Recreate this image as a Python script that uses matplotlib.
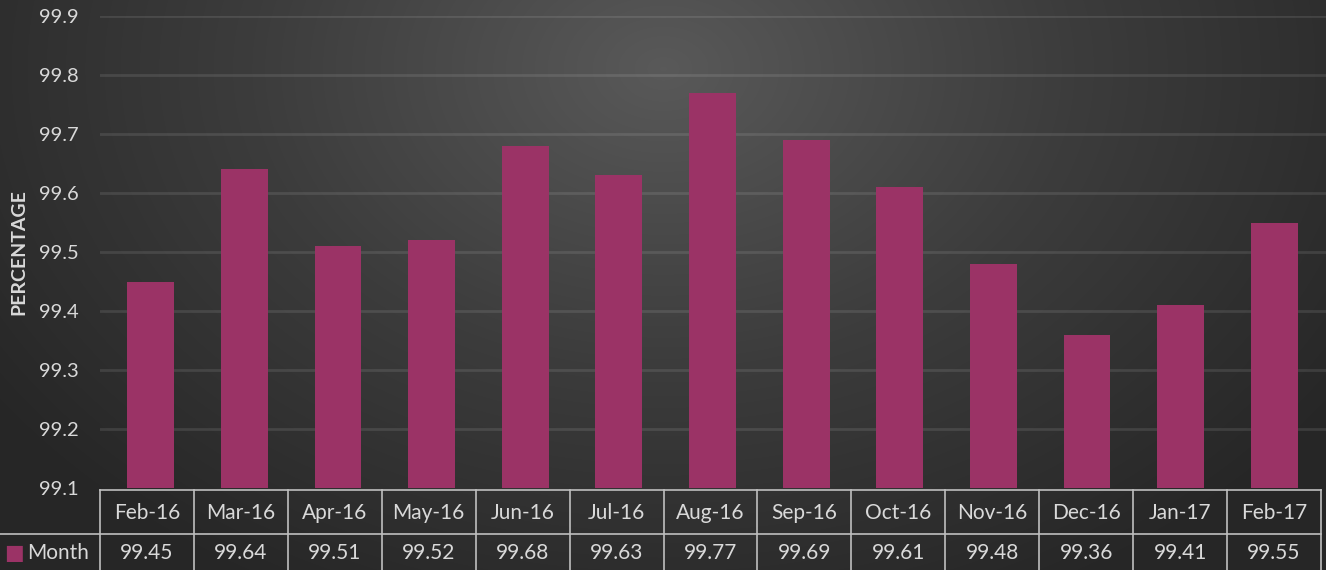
import numpy as np
import matplotlib.pyplot as plt
from matplotlib.colors import LinearSegmentedColormap

months = ["Feb-16", "Mar-16", "Apr-16", "May-16", "Jun-16", "Jul-16", "Aug-16",
          "Sep-16", "Oct-16", "Nov-16", "Dec-16", "Jan-17", "Feb-17"]
values = [99.45, 99.64, 99.51, 99.52, 99.68, 99.63, 99.77,
          99.69, 99.61, 99.48, 99.36, 99.41, 99.55]
yticks = [99.1, 99.2, 99.3, 99.4, 99.5, 99.6, 99.7, 99.8, 99.9]
series_name = "Month"

W, H = 1326, 570
bar_color = "#9B3366"
text_color = "#D9D9D9"
plt.rcParams['font.family'] = ['Lato', 'DejaVu Sans']

fig = plt.figure(figsize=(W / 100, H / 100), dpi=100)

# radial gradient background
bg = fig.add_axes([0, 0, 1, 1])
yy, xx = np.mgrid[0:H, 0:W]
d = np.sqrt(((xx - W * 0.5) / (W * 0.62)) ** 2 + ((yy - H * 0.12) / (H * 1.05)) ** 2)
d = np.clip(d, 0, 1)
cmap = LinearSegmentedColormap.from_list("bg", ["#595959", "#3C3C3C", "#262626"])
bg.imshow(d, cmap=cmap, aspect="auto", extent=(0, W, H, 0), vmin=0, vmax=1)
bg.set_xlim(0, W)
bg.set_ylim(H, 0)
bg.axis("off")

# grid lines span the full plot area
left, right = 100, 1321
top, bottom = 16, 488
gx = fig.add_axes([left / W, (H - bottom) / H, (W - left) / W, (bottom - top) / H])
gx.patch.set_alpha(0)
gx.set_ylim(yticks[0], yticks[-1])
for t in yticks[1:]:
    gx.axhline(t, color="white", alpha=0.1, linewidth=2)
gx.axis("off")

# bars
bar_left = 104
ax = fig.add_axes([bar_left / W, (H - bottom) / H, (right - bar_left) / W, (bottom - top) / H])
ax.patch.set_alpha(0)
x = np.arange(len(months))
ax.bar(x, values, width=0.5, color=bar_color, zorder=3)
ax.set_ylim(yticks[0], yticks[-1])
ax.set_xlim(-0.5, len(months) - 0.5)
ax.set_yticks(yticks)
ax.set_yticklabels([f"{t:.1f}" for t in yticks], color=text_color, fontsize=14.5)
ax.set_xticks([])
ax.tick_params(axis="y", length=0, pad=18)
for s in ax.spines.values():
    s.set_visible(False)
ax.set_ylabel("PERCENTAGE", color=text_color, fontsize=14, fontweight="bold")
ax.yaxis.set_label_coords(-(bar_left - 27) / (right - bar_left), 0.5)

# data table
tb = fig.add_axes([0, 0, 1, 1])
tb.patch.set_alpha(0)
tb.set_xlim(0, W)
tb.set_ylim(H, 0)
tb.axis("off")
row0, row1, row2 = 490, 534, 574
n = len(months)
cw = (right - left) / n
line_kw = dict(color="#BFBFBF", linewidth=1.2)
tb.plot([left, right], [row0, row0], **line_kw)
tb.plot([0, right], [row1, row1], **line_kw)
for i in range(n + 1):
    tb.plot([left + i * cw] * 2, [row0, row2], **line_kw)
for i, (m, v) in enumerate(zip(months, values)):
    cx = left + (i + 0.5) * cw
    tb.text(cx, (row0 + row1) / 2 + 1, m, ha="center", va="center", color=text_color, fontsize=15)
    tb.text(cx, (row1 + 570) / 2 + 1, f"{v:.2f}", ha="center", va="center", color=text_color, fontsize=15)
tb.text(4, (row1 + 570) / 2 + 1, "\u25A0", ha="left", va="center", color=bar_color, fontsize=15,
        family=['DejaVu Sans'])
tb.text(27, (row1 + 570) / 2 + 1, series_name, ha="left", va="center", color=text_color, fontsize=15)

fig.savefig("out.png", dpi=100)
